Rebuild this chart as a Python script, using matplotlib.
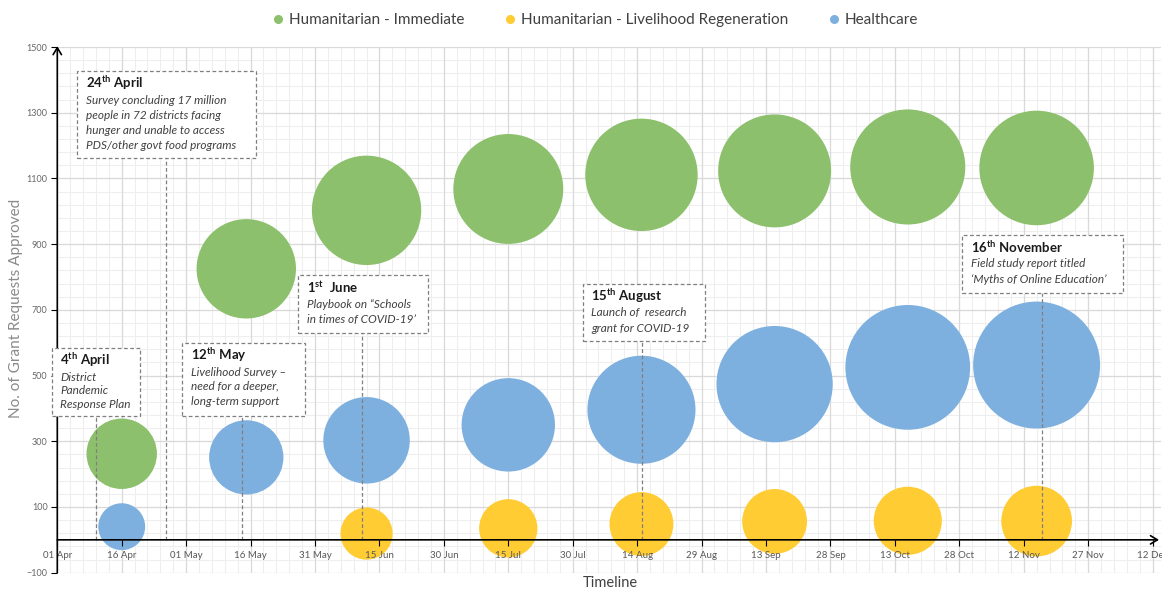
import numpy as np
import pandas as pd
import matplotlib
matplotlib.use("Agg")
import matplotlib.pyplot as plt
import matplotlib.dates as mdates
from matplotlib.lines import Line2D
from matplotlib.patches import Rectangle

plt.rcParams["font.family"] = "Lato"
plt.rcParams["mathtext.fontset"] = "custom"
plt.rcParams["mathtext.rm"] = "Lato"
plt.rcParams["mathtext.it"] = "Lato:italic"
plt.rcParams["mathtext.bf"] = "Lato:bold"

# ---- data ----
DATES = ["2020-04-16", "2020-05-15", "2020-06-12", "2020-07-15",
         "2020-08-15", "2020-09-15", "2020-10-16", "2020-11-15"]
IMMEDIATE = [262, 825, 1003, 1068, 1111, 1123, 1135, 1132]
IMMEDIATE_SIZE = [124, 247, 299, 302, 316, 319, 331, 328]
LIVELIHOOD_DATES = DATES[2:]
LIVELIHOOD = [19, 35, 48, 56, 58, 57]
LIVELIHOOD_SIZE = [68, 85, 102, 105, 116, 125]
HEALTHCARE = [40, 251, 303, 350, 396, 474, 525, 532]
HEALTHCARE_SIZE = [55, 138, 187, 218, 292, 338, 389, 403]

SERIES = [
    ("Humanitarian - Immediate", DATES, IMMEDIATE, IMMEDIATE_SIZE, "#8DC06C"),
    ("Humanitarian - Livelihood Regeneration", LIVELIHOOD_DATES, LIVELIHOOD,
     LIVELIHOOD_SIZE, "#FFCC33"),
    ("Healthcare", DATES, HEALTHCARE, HEALTHCARE_SIZE, "#7EB0DF"),
]

# callouts: title, body lines, line day, box (left day, right day, bottom, top), line gap px
NOTES = [
    (r"4$^{\mathbf{th}}$ April", ["District", "Pandemic", "Response Plan"],
     9.0, (-1.3, 19.3, 377, 583), 13.5),
    (r"24$^{\mathbf{th}}$ April", ["Survey concluding 17 million",
                                   "people in 72 districts facing",
                                   "hunger and unable to access",
                                   "PDS/other govt food programs"],
     25.3, (4.6, 46.3, 1162, 1427), 15.3),
    (r"12$^{\mathbf{th}}$ May", ["Livelihood Survey \u2013", "need for a deeper,",
                                 "long-term support"],
     43.1, (29.1, 57.7, 377, 598), 14.5),
    (r"1$^{\mathbf{st}}$  June", ["Playbook on \u201cSchools",
                                  "in times of COVID-19\u2019"],
     71.0, (56.1, 86.4, 630, 806), 15.5),
    (r"15$^{\mathbf{th}}$ August", ["Launch of  research", "grant for COVID-19"],
     136.2, (122.3, 150.7, 604, 780), 15.5),
    (r"16$^{\mathbf{th}}$ November", ["Field study report titled",
                                      "\u2018Myths of Online Education\u2019"],
     229.2, (210.7, 248.0, 752, 928), 15.5),
]

PX = 72 / 100  # points per pixel at dpi 100
S_SCALE = 10 * (2 * PX) ** 2

t0 = mdates.date2num(pd.Timestamp("2020-04-01"))

fig = plt.figure(figsize=(11.62, 5.89), dpi=100)
ax = fig.add_axes([0.0493, 0.0277, 0.9500, 0.8924])
ax.set_xlim(t0, t0 + 257)
ax.set_ylim(-100, 1500)

# grid (drawn by hand so bubbles sit above it but below the axis labels)
ax.vlines(t0 + np.arange(0, 258, 3), -100, 1500, color="#EEEEEE", lw=0.8, zorder=0)
ax.hlines(np.arange(-100, 1501, 40), t0, t0 + 257, color="#EEEEEE", lw=0.8, zorder=0)
ax.vlines(t0 + np.arange(0, 258, 15), -100, 1500, color="#D9D9D9", lw=0.9, zorder=0.1)
ax.hlines(np.arange(-100, 1501, 200), t0, t0 + 257, color="#D9D9D9", lw=0.9, zorder=0.1)

for name, d, y, s, c in SERIES:
    ax.scatter(mdates.date2num(pd.to_datetime(d)), y, s=np.array(s) * S_SCALE,
               color=c, linewidths=0, zorder=1)

for sp in ax.spines.values():
    sp.set_visible(False)
ax.spines["bottom"].set_position(("data", 0))

ax.set_xticks(t0 + np.arange(0, 258, 15))
ax.xaxis.set_major_formatter(mdates.DateFormatter("%d %b"))
ax.set_yticks(np.arange(-100, 1501, 200))
ax.tick_params(axis="x", length=4, width=0.8, color="black", labelsize=7,
               labelcolor="#595959", pad=4)
ax.tick_params(axis="y", length=4, width=0.8, color="black", labelsize=6.5,
               labelcolor="#666666", pad=3)

arrow = dict(arrowstyle="->,head_length=0.5,head_width=0.3", lw=1.2, color="black",
             shrinkA=0, shrinkB=0)
ax.annotate("", xy=(t0, 1503), xytext=(t0, -100), arrowprops=arrow,
            annotation_clip=False, zorder=4)
ax.annotate("", xy=(t0 + 256.5, 0), xytext=(t0, 0), arrowprops=arrow,
            annotation_clip=False, zorder=4)

for title, body, lday, (bl, br, bb, bt), gap in NOTES:
    ax.vlines(t0 + lday, 0, bb, colors="#7F7F7F", linestyles=(0, (3, 2)), lw=0.9, zorder=3)
    ax.add_patch(Rectangle((t0 + bl, bb), br - bl, bt - bb, facecolor="white",
                           edgecolor="#7F7F7F", lw=0.9, ls=(0, (3, 2)), zorder=5,
                           clip_on=False))
    ax.annotate(title, xy=(t0 + bl, bt), xytext=(8.5 * PX, -12 * PX),
                textcoords="offset points", ha="left", va="center", fontsize=9.5,
                fontweight="bold", color="#1A1A1A", zorder=6, annotation_clip=False)
    for i, line in enumerate(body):
        ax.annotate(line, xy=(t0 + bl, bt), xytext=(8.5 * PX, -(29 + i * gap) * PX),
                    textcoords="offset points", ha="left", va="center", fontsize=8.5,
                    fontstyle="italic", color="#404040", zorder=6, annotation_clip=False)

handles = [Line2D([], [], ls="", marker="o", markersize=6.5, color=c, markeredgewidth=0)
           for _, _, _, _, c in SERIES]
fig.legend(handles, [s[0] for s in SERIES], loc="center", bbox_to_anchor=(0.5125, 0.966),
           ncol=3, frameon=False, fontsize=11, handlelength=0.7, handletextpad=0.4,
           columnspacing=2.6, labelcolor="#404040")

fig.text(0.014, 0.476, "No. of Grant Requests Approved", rotation=90, ha="center",
         va="center", fontsize=11, color="#8A8A8A")
fig.text(0.525, 0.011, "Timeline", ha="center", va="center", fontsize=10.5,
         color="#404040")

fig.savefig("out.png", dpi=100, facecolor="white")
